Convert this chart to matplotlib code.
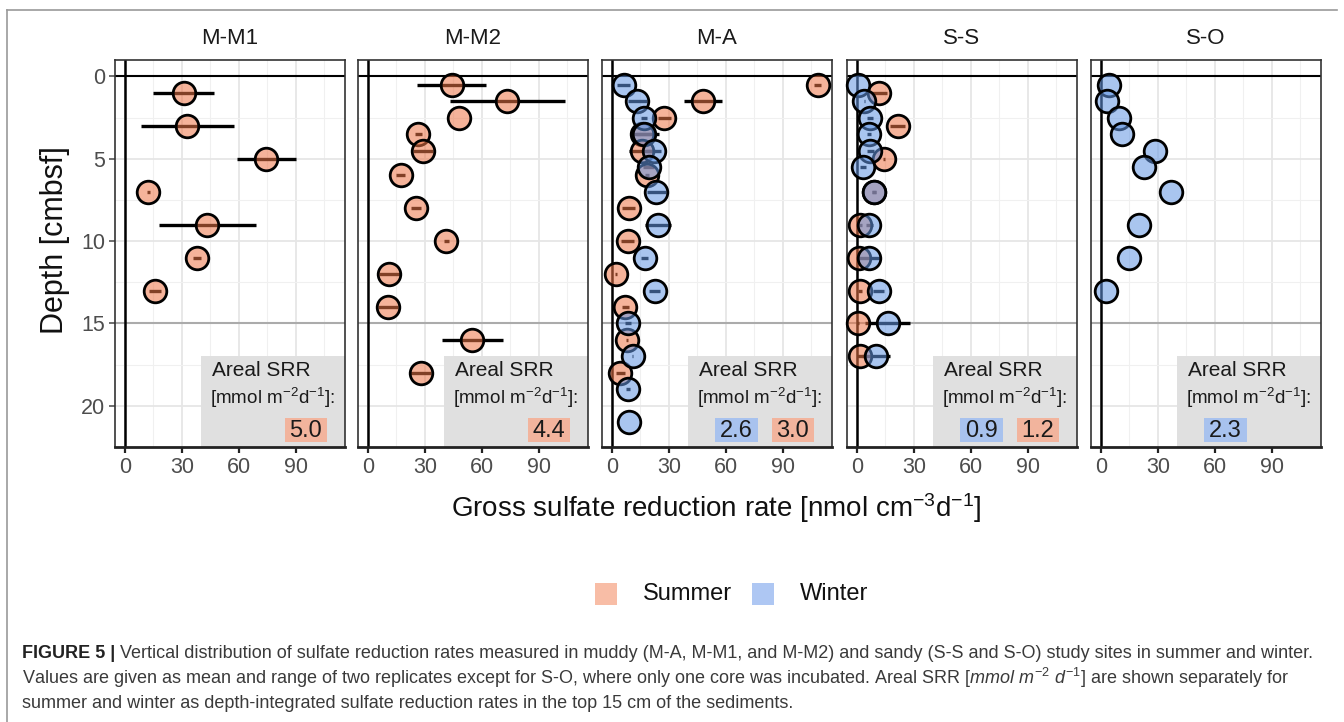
import matplotlib
matplotlib.use('Agg')
import matplotlib.pyplot as plt
from matplotlib.patches import Rectangle
from matplotlib.lines import Line2D
from matplotlib import font_manager as fm

names = {f.name for f in fm.fontManager.ttflist}
SANS = 'Liberation Sans'
NARROW = 'Liberation Sans Narrow' if 'Liberation Sans Narrow' in names else SANS

plt.rcParams['font.family'] = [SANS, 'DejaVu Sans']
plt.rcParams['mathtext.fontset'] = 'custom'
plt.rcParams['mathtext.rm'] = SANS
plt.rcParams['mathtext.it'] = SANS + ':italic'
plt.rcParams['mathtext.bf'] = SANS + ':bold'

# ---------------- data ----------------
SITES = ['M-M1', 'M-M2', 'M-A', 'S-S', 'S-O']
SEASONS = ['Summer', 'Winter']

MM1_summer_depth = [1, 3, 5, 7, 9, 11, 13]
MM1_summer_mean = [31.1, 32.9, 74.2, 12.3, 43.4, 38.1, 15.8]
MM1_summer_min = [15.0, 8.4, 58.9, 11.5, 18.1, 35.9, 12.8]
MM1_summer_max = [46.9, 57.4, 90.1, 13.1, 68.9, 40.3, 18.8]

MM2_summer_depth = [0.5, 1.5, 2.5, 3.5, 4.5, 6, 8, 10, 12, 14, 16, 18]
MM2_summer_mean = [44.4, 73.4, 48.0, 26.4, 29.0, 17.2, 25.5, 41.3, 11.1, 10.5, 55.0, 27.8]
MM2_summer_min = [26.0, 43.2, 47.8, 24.6, 23.5, 14.8, 22.9, 39.8, 5.6, 5.0, 39.2, 22.3]
MM2_summer_max = [62.4, 103.9, 48.2, 28.2, 34.5, 19.6, 28.1, 42.8, 16.6, 16.0, 71.2, 33.3]

MA_summer_depth = [0.5, 1.5, 2.5, 3.5, 4.5, 6, 8, 10, 12, 14, 16, 18]
MA_summer_mean = [108.4, 47.8, 27.6, 16.0, 15.8, 18.5, 8.8, 8.3, 2.1, 7.0, 7.9, 4.4]
MA_summer_min = [106.4, 37.8, 24.1, 10.2, 8.8, 17.5, 5.3, 4.8, 1.6, 5.0, 7.5, 1.9]
MA_summer_max = [110.4, 58.0, 31.1, 25.0, 22.8, 19.5, 12.3, 11.8, 2.6, 9.0, 8.3, 6.9]

MA_winter_depth = [0.5, 1.5, 2.5, 3.5, 4.5, 5.5, 7, 9, 11, 13, 15, 17, 19, 21]
MA_winter_mean = [6.2, 13.2, 16.7, 16.7, 22.0, 19.3, 23.4, 24.3, 17.2, 22.5, 8.4, 10.9, 8.3, 8.8]
MA_winter_min = [2.7, 8.2, 15.2, 12.7, 18.0, 16.3, 18.4, 17.3, 15.2, 19.5, 6.9, 10.6, 7.3, 8.8]
MA_winter_max = [9.7, 18.2, 18.2, 20.7, 26.0, 22.3, 28.4, 31.3, 19.2, 25.5, 9.9, 11.2, 9.3, 8.8]

SS_summer_depth = [1, 3, 5, 7, 9, 11, 13, 15, 17]
SS_summer_mean = [11.8, 21.4, 14.4, 9.1, 1.8, 0.8, 1.5, 0.3, 1.8]
SS_summer_min = [7.8, 17.4, 13.9, 8.1, 0.8, -0.2, 0.5, -0.2, -0.2]
SS_summer_max = [15.8, 25.4, 14.9, 10.1, 2.8, 1.8, 2.5, 0.8, 3.8]

SS_winter_depth = [0.5, 1.5, 2.5, 3.5, 4.5, 5.5, 7, 9, 11, 13, 15, 17]
SS_winter_mean = [0.4, 3.9, 7.0, 6.5, 7.0, 3.0, 9.1, 6.5, 6.5, 11.4, 16.2, 10.0]
SS_winter_min = [0.4, 3.6, 5.5, 5.5, 5.0, 1.5, 8.1, 4.5, 0.7, 8.4, 4.3, 2.4]
SS_winter_max = [0.4, 4.2, 8.5, 7.5, 9.0, 4.5, 10.1, 8.5, 12.3, 14.4, 28.1, 17.6]

SO_winter_depth = [0.5, 1.5, 2.5, 3.5, 4.5, 5.5, 7, 9, 11, 13]
SO_winter_mean = [4.4, 3.0, 9.7, 11.1, 28.6, 22.8, 36.9, 20.2, 14.6, 2.6]

AREAL_SUMMER = [5.0, 4.4, 3.0, 1.2, None]
AREAL_WINTER = [None, None, 2.6, 0.9, 2.3]

X_TICKS = [0, 30, 60, 90]
Y_TICKS = [0, 5, 10, 15, 20]

SERIES = {
    'M-M1': [('Summer', MM1_summer_depth, MM1_summer_mean, MM1_summer_min, MM1_summer_max)],
    'M-M2': [('Summer', MM2_summer_depth, MM2_summer_mean, MM2_summer_min, MM2_summer_max)],
    'M-A': [('Summer', MA_summer_depth, MA_summer_mean, MA_summer_min, MA_summer_max),
            ('Winter', MA_winter_depth, MA_winter_mean, MA_winter_min, MA_winter_max)],
    'S-S': [('Summer', SS_summer_depth, SS_summer_mean, SS_summer_min, SS_summer_max),
            ('Winter', SS_winter_depth, SS_winter_mean, SS_winter_min, SS_winter_max)],
    'S-O': [('Winter', SO_winter_depth, SO_winter_mean, None, None)],
}

# ---------------- styling ----------------
W, H = 1344, 722
FILL = {'Summer': (0.93, 0.46, 0.28, 0.55), 'Winter': (0.39, 0.59, 0.89, 0.55)}
LEGEND_COL = {'Summer': '#F8BDA6', 'Winter': '#AEC7F3'}
BOX_COL = {'Summer': '#F2B49D', 'Winter': '#A8C2EE'}

fig = plt.figure(figsize=(W / 100, H / 100), dpi=100)
fig.patch.set_facecolor('white')

panel_left = [115, 358, 602, 847, 1091]
panel_w = 230
panel_top, panel_bot = 60, 447

for i, site in enumerate(SITES):
    ax = fig.add_axes([panel_left[i] / W, 1 - panel_bot / H, panel_w / W, (panel_bot - panel_top) / H])
    ax.set_xlim(-5.3, 116)
    ax.set_ylim(22.5, -1)
    ax.set_xticks(X_TICKS)
    ax.set_xticks([15, 45, 75, 105], minor=True)
    ax.set_yticks(Y_TICKS)
    ax.set_yticks([2.5, 7.5, 12.5, 17.5, 22.5], minor=True)
    ax.set_axisbelow(True)
    ax.grid(which='major', color='#E6E6E6', lw=1.3, zorder=0)
    ax.grid(which='minor', color='#F0F0F0', lw=0.8, zorder=0)
    for s in ax.spines.values():
        s.set_color('#333333')
        s.set_linewidth(1.2)
    ax.spines['bottom'].set_color('#222222')
    ax.spines['bottom'].set_linewidth(2.0)
    ax.tick_params(axis='x', which='major', labelsize=15.5, labelcolor='#4D4D4D',
                   color='#222222', length=4.5, width=1.6, pad=3)
    ax.tick_params(which='minor', length=0)
    if i == 0:
        ax.tick_params(axis='y', which='major', labelsize=15.5, labelcolor='#4D4D4D',
                       color='#555555', length=4, width=1.2, pad=3)
    else:
        ax.tick_params(axis='y', which='major', length=0, labelleft=False)

    # reference lines
    ax.axhline(0, color='black', lw=1.5, zorder=1.6)
    ax.axhline(15, color='#ABABAB', lw=1.5, zorder=1.6)
    ax.axvline(0, color='black', lw=1.8, zorder=1.6)

    # Areal SRR annotation box
    ax.add_patch(Rectangle((40, 17.0), 90, 8, facecolor='#E0E0E0', edgecolor='none', zorder=1.2))
    ax.text(45.7, 17.85, 'Areal SRR', fontsize=15, ha='left', va='center', color='#1A1A1A', zorder=1.3)
    ax.text(44.6, 19.55, '[mmol m$^{-2}$d$^{-1}$]:', fontsize=13.6, ha='left', va='center',
            color='#1A1A1A', zorder=1.3)
    for season, val, (x0, x1) in (('Winter', AREAL_WINTER[i], (54.3, 77.0)),
                                  ('Summer', AREAL_SUMMER[i], (84.3, 106.4))):
        if val is None:
            continue
        ax.add_patch(Rectangle((x0, 20.72), x1 - x0, 1.5, facecolor=BOX_COL[season],
                               edgecolor='none', zorder=1.3))
        ax.text((x0 + x1) / 2, 21.5, f'{val:.1f}', fontsize=17, ha='center', va='center',
                color='#1A1A1A', zorder=1.4)

    # error bars then points
    for season, d, m, lo, hi in SERIES[site]:
        if lo is not None:
            ax.hlines(d, lo, hi, color='black', lw=2.4, zorder=2)
    for season, d, m, lo, hi in SERIES[site]:
        ax.scatter(m, d, s=265, facecolor=[FILL[season]], edgecolor='black',
                   linewidth=2.0, zorder=3, clip_on=False)

    fig.text((panel_left[i] + panel_w / 2) / W, 1 - 38 / H, site, fontsize=16,
             ha='center', va='center', color='#1A1A1A')

# axis titles
fig.text(55 / W, 1 - 240 / H, 'Depth [cmbsf]', rotation=90, fontsize=22,
         ha='center', va='center', color='#111111')
fig.text(716 / W, 1 - 508 / H, 'Gross sulfate reduction rate [nmol cm$^{-3}$d$^{-1}$]',
         fontsize=20, ha='center', va='center', color='#111111')

# legend
for season, xs, xt in (('Summer', 595, 643), ('Winter', 752, 800)):
    fig.add_artist(Rectangle((xs / W, 1 - 605 / H), 22 / W, 22 / H, transform=fig.transFigure,
                             facecolor=LEGEND_COL[season], edgecolor='none'))
    fig.text(xt / W, 1 - 594 / H, season, fontsize=17, ha='left', va='center', color='#111111')

# frame
fig.add_artist(Line2D([7 / W, 7 / W], [0, 1 - 10 / H], transform=fig.transFigure,
                      color='#9A9A9A', lw=1.2))
fig.add_artist(Line2D([7 / W, 1337 / W], [1 - 10 / H, 1 - 10 / H], transform=fig.transFigure,
                      color='#9A9A9A', lw=1.2))

# caption
renderer = fig.canvas.get_renderer()
cap_col = '#3A3A3A'
line1_rest = (' Vertical distribution of sulfate reduction rates measured in muddy (M-A, M-M1, and M-M2) '
              'and sandy (S-S and S-O) study sites in summer and winter.')
line2 = ('Values are given as mean and range of two replicates except for S-O, where only one core was '
         'incubated. Areal SRR [$\\mathit{mmol\\ m^{-2}\\ d^{-1}}$] are shown separately for')
line3 = 'summer and winter as depth-integrated sulfate reduction rates in the top 15 cm of the sediments.'

fs = 12.5
x0 = 22
target = 1313 - 22
for _ in range(3):
    tb = fig.text(x0 / W, 1 - 653 / H, 'FIGURE 5 |', fontsize=fs, fontweight='bold',
                  family=[NARROW, 'DejaVu Sans'], ha='left', va='center', color='#222222')
    bb = tb.get_window_extent(renderer)
    tr = fig.text(bb.x1 / W, 1 - 653 / H, line1_rest, fontsize=fs, family=[NARROW, 'DejaVu Sans'],
                  ha='left', va='center', color=cap_col)
    bb2 = tr.get_window_extent(renderer)
    width = bb2.x1 - x0
    tb.remove()
    tr.remove()
    fs = fs * target / width

tb = fig.text(x0 / W, 1 - 653 / H, 'FIGURE 5 |', fontsize=fs, fontweight='bold',
              family=[NARROW, 'DejaVu Sans'], ha='left', va='center', color='#222222')
bb = tb.get_window_extent(renderer)
fig.text(bb.x1 / W, 1 - 653 / H, line1_rest, fontsize=fs, family=[NARROW, 'DejaVu Sans'],
         ha='left', va='center', color=cap_col)
fig.text(x0 / W, 1 - 678 / H, line2, fontsize=fs, family=[NARROW, 'DejaVu Sans'],
         ha='left', va='center', color=cap_col)
fig.text(x0 / W, 1 - 703 / H, line3, fontsize=fs, family=[NARROW, 'DejaVu Sans'],
         ha='left', va='center', color=cap_col)

fig.savefig('out.png', dpi=100, facecolor='white')
